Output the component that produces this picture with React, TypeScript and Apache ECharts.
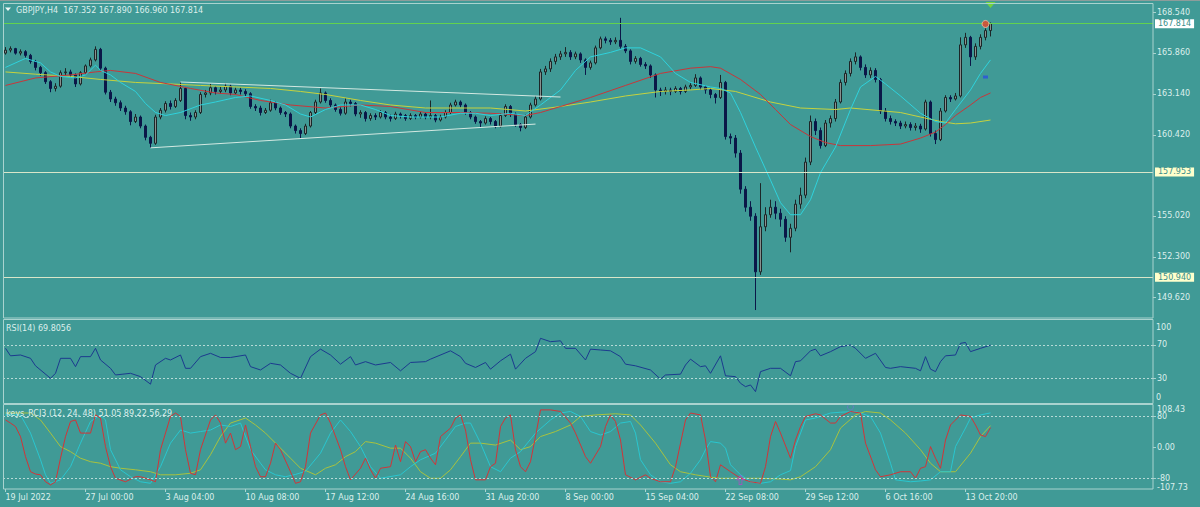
import React, { useEffect, useRef } from "react";
import * as echarts from "echarts";

// ---------- data ----------
const tickLabels = ["19 Jul 2022", "27 Jul 00:00", "3 Aug 04:00", "10 Aug 08:00", "17 Aug 12:00", "24 Aug 16:00", "31 Aug 20:00", "8 Sep 00:00", "15 Sep 04:00", "22 Sep 08:00", "29 Sep 12:00", "6 Oct 16:00", "13 Oct 20:00"];
const barsPerLabel = 16;
const slotCount = 230;

const opens = [165.85,166.05,166.15,165.85,165.95,165.70,165.30,164.90,164.55,163.95,163.50,163.65,164.55,164.60,164.40,163.80,164.55,165.00,165.40,166.10,
164.85,163.25,162.80,162.55,162.20,161.95,161.30,161.60,161.00,160.25,159.85,161.60,162.05,162.50,162.30,162.70,163.50,161.70,161.60,161.90,
163.10,163.20,163.55,163.30,163.40,163.65,163.20,163.40,163.30,163.15,162.30,162.20,161.90,162.05,162.55,162.20,161.90,161.80,161.00,160.70,
160.50,161.00,161.90,162.60,163.20,162.70,162.40,162.10,161.85,162.60,162.50,161.80,161.90,161.50,161.70,161.60,161.90,161.60,161.50,161.80,
161.70,161.50,161.70,161.60,161.80,161.60,161.70,161.40,161.60,161.90,162.40,162.60,162.40,161.90,161.60,161.30,161.20,161.50,161.30,161.00,
161.70,162.30,161.80,161.10,160.90,161.60,162.40,162.80,164.60,164.80,165.30,165.60,165.80,165.90,165.60,165.80,165.40,164.90,165.20,166.20,
166.80,166.70,166.60,166.70,166.30,166.00,165.30,165.50,165.10,165.00,164.40,163.40,163.30,163.40,163.30,163.50,163.30,163.60,163.70,164.20,
163.60,163.40,163.10,162.90,163.90,160.30,160.20,159.20,156.80,155.60,155.00,151.30,154.30,155.10,155.60,155.20,154.80,153.60,154.20,155.80,
156.40,158.60,161.30,160.70,159.70,161.20,161.50,162.60,163.90,164.50,165.30,165.60,164.90,164.40,164.70,164.10,162.00,161.50,161.30,161.20,
161.00,161.10,160.90,161.00,160.80,162.60,160.50,160.10,162.00,162.90,162.80,163.00,166.40,166.90,165.60,166.30,166.90,167.352];
const closes = [166.05,166.15,165.85,165.95,165.70,165.30,164.90,164.55,163.95,163.50,163.65,164.55,164.60,164.40,163.80,164.55,165.00,165.40,166.10,164.85,
163.25,162.80,162.55,162.20,161.95,161.30,161.60,161.00,160.25,159.85,161.60,162.05,162.50,162.30,162.70,163.50,161.70,161.60,161.90,163.10,
163.20,163.55,163.30,163.40,163.65,163.20,163.40,163.30,163.15,162.30,162.20,161.90,162.05,162.55,162.20,161.90,161.80,161.00,160.70,160.50,
161.00,161.90,162.60,163.20,162.70,162.40,162.10,161.85,162.60,162.50,161.80,161.90,161.50,161.70,161.60,161.90,161.60,161.50,161.80,161.70,
161.50,161.70,161.60,161.80,161.60,161.70,161.40,161.60,161.90,162.40,162.60,162.40,161.90,161.60,161.30,161.20,161.50,161.30,161.00,161.70,
162.30,161.80,161.10,160.90,161.60,162.40,162.80,164.60,164.80,165.30,165.60,165.80,165.90,165.60,165.80,165.40,164.90,165.20,166.20,166.80,
166.70,166.60,166.70,166.30,166.00,165.30,165.50,165.10,165.00,164.40,163.40,163.30,163.40,163.30,163.50,163.30,163.60,163.70,164.20,163.60,
163.40,163.10,162.90,163.90,160.30,160.20,159.20,156.80,155.60,155.00,151.30,154.30,155.10,155.60,155.20,154.80,153.60,154.20,155.80,156.40,
158.60,161.30,160.70,159.70,161.20,161.50,162.60,163.90,164.50,165.30,165.60,164.90,164.40,164.70,164.10,162.00,161.50,161.30,161.20,161.00,
161.10,160.90,161.00,160.80,162.60,160.50,160.10,162.00,162.90,162.80,163.00,166.40,166.90,165.60,166.30,166.90,167.35,167.814];
const lows = [165.75,165.90,165.75,165.70,165.55,165.15,164.70,164.35,163.80,163.25,163.30,163.55,164.35,164.20,163.60,163.70,164.45,164.90,165.30,164.70,
163.10,162.60,162.35,162.00,161.75,161.05,161.20,160.85,160.05,159.55,159.75,161.45,161.90,162.10,162.20,162.60,161.45,161.35,161.45,161.80,
162.90,163.05,163.10,163.15,163.25,163.05,163.10,163.10,162.95,162.15,162.00,161.70,161.80,161.95,162.05,161.75,161.60,160.85,160.50,160.20,
160.40,160.90,161.80,162.50,162.55,162.25,161.95,161.70,161.75,162.30,161.65,161.55,161.30,161.35,161.40,161.50,161.45,161.30,161.40,161.50,
161.35,161.40,161.45,161.50,161.45,161.45,161.25,161.30,161.50,161.80,162.30,162.25,161.75,161.45,161.15,160.90,161.10,161.10,160.85,160.90,
161.60,161.60,160.95,160.65,160.80,161.50,162.30,162.70,164.40,164.60,165.10,165.40,165.60,165.40,165.45,165.20,164.40,164.75,165.10,166.10,
166.50,166.40,166.45,166.15,165.85,165.10,165.15,164.95,164.80,164.20,162.90,163.00,163.10,163.05,163.20,163.10,163.20,163.45,163.60,163.40,
163.15,162.85,162.50,162.80,160.10,159.80,158.90,156.50,155.30,154.70,148.76,151.10,154.00,154.90,154.80,154.30,153.30,152.60,154.00,155.50,
156.20,158.40,160.40,159.50,159.60,160.90,161.30,162.50,163.70,164.30,165.10,164.70,164.20,164.20,163.90,161.80,161.30,161.10,161.00,160.80,
160.85,160.70,160.70,160.55,160.70,160.30,159.80,160.00,161.90,162.60,162.70,162.90,166.20,165.00,165.40,166.10,166.70,166.96];
const highs = [166.25,166.30,166.20,166.10,166.05,165.80,165.40,165.00,164.65,164.05,163.85,164.70,164.85,164.75,164.50,164.65,165.10,165.55,166.30,166.20,
164.95,163.40,162.95,162.70,162.35,162.05,161.80,161.70,161.10,160.35,161.75,162.20,162.65,162.70,162.85,163.90,163.60,161.90,162.05,163.25,
163.40,163.80,163.65,163.60,163.85,163.75,163.55,163.55,163.45,163.25,162.45,162.35,162.20,162.75,162.65,162.30,162.00,161.90,161.10,160.85,
161.15,162.00,162.75,163.50,163.30,162.85,162.50,162.25,162.85,162.75,162.60,162.05,162.00,161.85,161.85,162.05,162.00,161.75,161.95,161.90,
161.80,161.85,161.80,161.95,161.90,162.70,161.80,161.75,162.05,162.55,162.75,162.70,162.50,162.00,161.70,161.40,161.65,161.60,161.40,161.85,
162.45,162.40,161.90,161.20,161.75,162.55,163.00,164.80,165.00,165.50,165.80,166.00,166.25,166.05,165.95,165.90,165.50,165.35,166.35,166.95,
166.95,166.85,166.90,168.20,166.45,166.10,165.65,165.60,165.25,165.10,164.50,163.55,163.60,163.55,163.65,163.60,163.75,163.85,164.45,164.30,
163.70,163.50,163.20,164.40,164.00,160.50,160.40,159.40,157.00,156.00,155.20,157.20,155.60,156.10,156.00,155.50,155.00,154.50,156.10,156.90,
158.90,161.70,161.50,160.90,161.40,161.70,162.80,164.10,164.70,165.50,165.90,165.70,165.10,164.90,164.85,164.20,162.20,161.70,161.45,161.35,
161.30,161.25,161.20,161.15,162.75,162.70,160.70,162.20,163.05,163.05,163.20,166.90,167.20,167.00,166.50,167.10,167.50,167.89];

// moving averages: [bar index, price]
const maFast = [[0,164.9],[4,165.5],[7,165.2],[9,164.6],[11,164.3],[14,164.2],[16,164.4],[18,165.05],[19,164.7],[21,164.4],[23,163.9],[26,163.3],[28,162.5],[30,161.9],[32,161.7],[35,161.9],[39,162.4],[42,162.6],[46,162.9],[49,163.0],[53,162.7],[56,162.4],[59,161.8],[61,161.6],[64,162.1],[67,162.4],[71,162.4],[74,162.1],[77,161.7],[81,161.6],[87,161.6],[91,161.85],[94,161.85],[97,161.7],[101,161.85],[104,161.7],[107,162.4],[111,163.4],[114,164.7],[117,165.6],[121,165.9],[124,166.2],[127,166.2],[131,165.6],[134,164.5],[137,163.9],[141,163.6],[143,163.5],[145,163.2],[147,161.9],[150,159.6],[153,157.4],[155,155.9],[157,155.1],[159,155.1],[161,156.1],[163,157.9],[166,159.6],[169,162.1],[171,163.6],[174,164.3],[176,163.8],[179,163.0],[183,161.85],[186,161.3],[188,161.2],[190,162.1],[193,163.4],[195,164.5],[197,165.4]];
const maMid = [[0,163.7],[6,164.2],[13,164.4],[18,164.6],[21,164.7],[26,164.5],[31,163.9],[37,163.5],[42,163.2],[46,163.1],[51,162.7],[57,162.4],[64,162.2],[71,162.4],[77,162.3],[84,161.9],[91,161.9],[97,161.85],[104,161.7],[107,161.9],[111,162.3],[117,162.9],[124,163.7],[131,164.5],[137,164.85],[141,164.95],[143,164.85],[147,164.1],[151,163.1],[154,162.1],[157,161.1],[161,160.3],[164,159.9],[167,159.7],[173,159.7],[179,159.8],[183,160.2],[186,160.6],[188,161.1],[190,161.7],[193,162.4],[195,162.9],[197,163.2]];
const maSlow = [[0,164.6],[6,164.45],[13,164.3],[19,164.1],[26,163.9],[33,163.8],[39,163.7],[46,163.6],[53,163.5],[59,163.3],[64,163.1],[71,162.7],[77,162.4],[84,162.2],[97,162.2],[104,162.0],[111,162.3],[117,162.6],[124,163.0],[131,163.3],[137,163.4],[141,163.5],[146,163.3],[153,162.6],[159,162.2],[166,162.1],[169,162.2],[179,161.9],[183,161.6],[187,161.3],[190,161.15],[193,161.2],[197,161.4]];

// RSI(14): [bar index, value]
const rsi = [[0,66],[1,57],[3,58],[5,54],[6,45],[9,30],[10,36],[11,54],[13,54],[14,44],[15,56],[17,56],[18,66],[19,52],[21,42],[22,34],[25,36],[27,32],[29,23],[30,46],[32,54],[33,52],[35,58],[36,42],[37,42],[39,56],[41,60],[43,55],[45,55],[48,58],[49,44],[51,40],[53,48],[55,46],[57,36],[59,30],[61,56],[63,65],[65,58],[67,47],[69,56],[70,46],[72,50],[74,46],[77,49],[79,39],[81,49],[84,50],[85,53],[89,63],[91,56],[92,48],[94,43],[96,49],[97,41],[99,51],[101,59],[102,41],[104,54],[106,62],[107,78],[109,74],[111,75],[112,66],[114,66],[116,52],[117,65],[119,64],[121,63],[123,56],[124,47],[126,45],[129,40],[131,29],[132,34],[135,35],[136,46],[137,53],[139,44],[140,45],[141,36],[143,57],[144,33],[146,32],[147,24],[148,20],[149,22],[150,14],[151,38],[153,42],[155,42],[157,33],[158,50],[159,51],[161,63],[162,65],[163,57],[165,62],[167,68],[169,70],[170,66],[172,54],[174,60],[176,43],[177,42],[179,44],[182,42],[183,39],[184,56],[185,41],[186,38],[187,50],[188,57],[190,58],[191,72],[192,73],[193,62],[195,66],[197,69.8]];

// keys_RCI3 (12, 24, 48): [bar index, value]
const rci12 = [[0,71],[1,63],[2,54],[3,28],[4,-24],[5,-63],[6,-69],[7,-71],[8,-89],[9,-97],[10,-89],[11,-28],[12,28],[13,67],[14,71],[15,37],[17,37],[18,84],[19,76],[20,2],[21,-50],[22,-80],[24,-89],[26,-76],[27,-76],[29,-84],[30,-89],[31,-6],[32,37],[33,80],[34,89],[35,80],[36,-6],[37,-67],[38,-71],[39,-6],[41,71],[42,84],[43,63],[44,11],[45,37],[46,-6],[47,2],[48,58],[49,2],[50,-50],[51,-76],[52,-76],[53,-41],[54,11],[55,-6],[57,-63],[58,-93],[59,-89],[60,-50],[61,37],[63,84],[64,89],[65,63],[67,-6],[68,-50],[69,-84],[71,-54],[72,-28],[73,-58],[74,-80],[75,-54],[77,-50],[78,6],[79,-37],[80,15],[81,2],[82,-37],[83,-11],[84,-6],[85,-28],[86,-45],[87,28],[89,50],[90,76],[91,84],[92,45],[93,-32],[94,-84],[96,-84],[97,-50],[98,-41],[99,54],[100,76],[101,84],[102,-6],[103,-50],[104,-63],[105,-37],[106,28],[107,97],[109,97],[111,93],[113,63],[114,37],[116,-24],[117,-41],[119,2],[120,54],[121,84],[122,67],[123,19],[124,-71],[126,-84],[128,-71],[129,-80],[131,-89],[133,-89],[134,-50],[136,71],[137,89],[139,84],[140,19],[141,-76],[142,-89],[143,-45],[145,-63],[147,-80],[149,-89],[151,-93],[152,-50],[153,28],[154,67],[155,37],[157,-28],[158,19],[159,54],[160,80],[162,87],[163,84],[165,63],[166,63],[167,80],[169,93],[171,89],[172,11],[174,-58],[175,-76],[177,-71],[179,-63],[181,-63],[182,-80],[183,-54],[184,-50],[185,2],[186,-28],[187,-54],[188,19],[189,58],[191,84],[193,80],[194,58],[195,32],[196,28],[197,51.05]];
const rci24 = [[0,84],[3,84],[5,37],[7,-32],[8,-71],[9,-93],[11,-84],[13,-50],[15,11],[17,67],[19,84],[20,71],[21,-6],[23,-58],[25,-76],[27,-89],[29,-93],[31,-50],[33,11],[35,45],[37,37],[39,41],[41,45],[43,58],[45,54],[47,63],[49,-6],[51,-41],[52,-58],[54,-71],[56,-76],[58,-70],[60,-62],[63,-15],[65,37],[67,71],[69,41],[71,2],[73,-50],[75,-80],[79,-71],[81,-50],[83,-32],[86,-15],[88,19],[90,54],[92,63],[93,63],[95,11],[97,-50],[99,-63],[101,-28],[103,-11],[106,37],[109,71],[111,89],[113,93],[115,80],[117,41],[119,32],[121,41],[123,63],[125,67],[126,37],[127,-32],[129,-71],[131,-89],[133,-93],[135,-89],[137,-67],[139,-32],[140,-6],[141,15],[143,11],[144,-2],[145,-45],[147,-71],[149,-89],[151,-93],[153,-89],[155,-71],[157,-60],[158,2],[160,71],[162,76],[165,89],[167,91],[170,93],[173,80],[175,37],[177,-41],[178,-84],[181,-89],[183,-87],[185,-84],[187,-63],[189,-63],[190,2],[192,50],[193,76],[195,84],[197,89.22]];
const rci48 = [[0,89],[5,89],[7,71],[9,37],[11,2],[13,-11],[15,-28],[17,-37],[19,-41],[21,-50],[23,-54],[26,-58],[29,-63],[31,-71],[34,-71],[37,-67],[39,-58],[41,-19],[43,28],[45,63],[48,76],[50,58],[52,37],[54,11],[57,-28],[59,-54],[62,-71],[64,-54],[66,-45],[68,-24],[70,-11],[72,15],[74,11],[77,-2],[79,-2],[81,-28],[83,-63],[85,-80],[87,-80],[89,-58],[91,-24],[93,11],[95,11],[98,6],[101,19],[103,-6],[105,2],[107,28],[110,41],[113,58],[115,80],[118,84],[122,87],[125,84],[127,58],[130,11],[133,-45],[135,-63],[138,-71],[141,-77],[143,-80],[151,-80],[155,-82],[157,-84],[159,-76],[162,-50],[165,-6],[167,50],[170,84],[172,93],[175,89],[177,71],[180,37],[183,-6],[185,-41],[187,-63],[190,-63],[193,-15],[195,28],[197,56.29]];

const priceTicks = [149.62, 152.30, 155.02, 160.42, 163.14, 165.86, 168.54];
const hLineValues = [167.814, 157.953, 150.940];
const trendLines = [[[35, 163.93], [111, 162.93]], [[29, 159.55], [106, 161.13]]];
const rsiLevels = [70, 30];
const rciLevels = [80, -80];
const rciTicks = [80, 0, -80];
const signalDown = [[197, 169.05]];
const signalDot = [[196, 167.79]];
const signalDash = [[196, 164.26]];
const rciArrow = [[147, -84.4]];
const rciRing = [[169, 104.5]];

// ---------- styles ----------
const BG = "#409a96";
const TXT = "#dcefec";
const FRAME = "#a9d3cf";
const FONT = "DejaVu Sans";

const categories = Array.from({ length: slotCount }, (_, i) => String(i));
const isLabelIdx = (i: number) => i % barsPerLabel === 0 && i / barsPerLabel < tickLabels.length;

function buildOption(): any {
  const candles = closes.map((c, i) => [opens[i], c, lows[i], highs[i]]);
  const hStyles = [
    { line: "#62d24e", box: "#ffffff" },
    { line: "#d9e6c9", box: "#ffffcc" },
    { line: "#d9e6c9", box: "#ffffcc" },
  ];
  const grids = [
    { left: 3, right: 47, top: 3, height: 315 },
    { left: 3, right: 47, top: 320, height: 83.3 },
    { left: 3, right: 47, top: 405.5, height: 83.5 },
  ].map((g) => ({ ...g, containLabel: false, outerBoundsMode: "none", show: false }));

  const hiddenX = (gi: number) => ({
    type: "category", gridIndex: gi, data: categories, boundaryGap: true, position: "bottom",
    axisLine: { show: false, onZero: false }, axisTick: { show: false }, axisLabel: { show: false }, splitLine: { show: false },
  });
  const yCommon = {
    type: "value", position: "right", axisLine: { show: false }, splitLine: { show: false },
  };
  const lbl = { color: TXT, fontFamily: FONT, fontSize: 8, margin: 4 };
  const levelLine = (vals: number[]) => ({
    silent: true, symbol: ["none", "none"], label: { show: false },
    lineStyle: { color: "#b6dad6", type: [2, 2], width: 1 },
    data: vals.map((v) => ({ yAxis: v })),
  });
  const line = (data: number[][], xi: number, color: string, z = 3) => ({
    type: "line", xAxisIndex: xi, yAxisIndex: xi, data, showSymbol: false, symbol: "none",
    lineStyle: { color, width: 1 }, z, silent: true,
  });

  const t = (text: string, x: number, y: number, extra: any = {}) => ({
    type: "text", x, y, silent: true, z: 50,
    style: { text, fill: TXT, font: `8px "${FONT}"`, textVerticalAlign: "middle", verticalAlign: "middle", ...extra },
  });
  const frame = (x: number, y: number, w: number, h: number) => ({
    type: "rect", silent: true, z: 40, shape: { x, y, width: w, height: h },
    style: { fill: "none", stroke: FRAME, lineWidth: 1 },
  });

  return {
    animation: false,
    backgroundColor: BG,
    grid: grids,
    xAxis: [
      hiddenX(0),
      hiddenX(1),
      {
        ...hiddenX(2),
        axisTick: { show: true, alignWithLabel: true, length: 3, interval: (i: number) => isLabelIdx(i), lineStyle: { color: FRAME } },
        axisLabel: {
          show: true, ...lbl, align: "left", interval: (i: number) => isLabelIdx(i),
          formatter: (_v: string, i: number) => (isLabelIdx(i) ? tickLabels[i / barsPerLabel] : ""),
        },
      },
    ],
    yAxis: [
      {
        ...yCommon, gridIndex: 0, min: 148.23, max: 169.185,
        axisTick: { show: true, length: 3, customValues: priceTicks, lineStyle: { color: FRAME } },
        axisLabel: { ...lbl, customValues: priceTicks, formatter: (v: number) => v.toFixed(3) },
      },
      {
        ...yCommon, gridIndex: 1, min: 0, max: 100,
        axisTick: { show: true, length: 3, customValues: rsiLevels, lineStyle: { color: FRAME } },
        axisLabel: { ...lbl, customValues: rsiLevels, formatter: (v: number) => String(v) },
      },
      {
        ...yCommon, gridIndex: 2, min: -107.73, max: 108.43,
        axisTick: { show: true, length: 3, customValues: rciTicks, lineStyle: { color: FRAME } },
        axisLabel: { ...lbl, customValues: rciTicks, formatter: (v: number) => (v === 0 ? "0.00" : String(v)) },
      },
    ],
    series: [
      {
        type: "candlestick", xAxisIndex: 0, yAxisIndex: 0, data: candles, barWidth: 3, z: 2, silent: true,
        itemStyle: { color: "#87918f", color0: "#0b1748", borderColor: "#1c2628", borderColor0: "#0b1748", borderWidth: 1 },
        markLine: {
          silent: true, symbol: ["none", "none"], animation: false,
          data: [
            ...hLineValues.map((v, k) => ({
              yAxis: v,
              lineStyle: { color: hStyles[k].line, width: 1, type: "solid" },
              label: {
                show: true, position: "end", distance: 2, formatter: () => v.toFixed(3),
                color: "#3b8e8a", backgroundColor: hStyles[k].box, padding: [1, 3, 0, 3],
                fontFamily: FONT, fontSize: 8,
              },
            })),
            ...trendLines.map((tl) => [
              { coord: tl[0], lineStyle: { color: "#d3e9e2", width: 1, type: "solid" }, label: { show: false } },
              { coord: tl[1] },
            ]),
          ],
        },
      },
      line(maSlow, 0, "#c6d23e"),
      line(maMid, 0, "#c8363a"),
      line(maFast, 0, "#2fd2dc"),
      {
        type: "scatter", xAxisIndex: 0, yAxisIndex: 0, data: signalDown, symbol: "triangle", symbolRotate: 180,
        symbolSize: [10, 6], itemStyle: { color: "#7fe024" }, silent: true, z: 6,
      },
      {
        type: "scatter", xAxisIndex: 0, yAxisIndex: 0, data: signalDot, symbol: "circle",
        symbolSize: 7, itemStyle: { color: "#e8432c", borderColor: "#f6c0a0", borderWidth: 1 }, silent: true, z: 6,
      },
      {
        type: "scatter", xAxisIndex: 0, yAxisIndex: 0, data: signalDash, symbol: "rect",
        symbolSize: [5, 3], itemStyle: { color: "#2a50e0" }, silent: true, z: 6,
      },
      { ...line(rsi, 1, "#1c3a8e"), markLine: levelLine(rsiLevels) },
      { ...line(rci48, 2, "#a9c23e"), markLine: levelLine(rciLevels) },
      line(rci24, 2, "#2ac6cf"),
      line(rci12, 2, "#d23438"),
      {
        type: "scatter", xAxisIndex: 2, yAxisIndex: 2, data: rciArrow,
        symbol: "path://M5 0 L10 5 L7 5 L7 11 L3 11 L3 5 L0 5 Z", symbolSize: [7, 9],
        itemStyle: { color: "rgba(0,0,0,0)", borderColor: "#b448c8", borderWidth: 1 }, silent: true, z: 6,
      },
      {
        type: "scatter", xAxisIndex: 2, yAxisIndex: 2, data: rciRing, symbol: "circle", symbolSize: 6,
        itemStyle: { color: "rgba(0,0,0,0)", borderColor: "#6b78c8", borderWidth: 1 }, silent: true, z: 6,
      },
    ],
    graphic: [
      { type: "line", silent: true, z: 40, shape: { x1: 0, y1: 0.5, x2: 1200, y2: 0.5 }, style: { stroke: "#8d9d9b", lineWidth: 1 } },
      frame(3.5, 3.5, 1149.5, 314.5),
      frame(3.5, 319.5, 1149.5, 84),
      frame(3.5, 404.5, 1149.5, 84.5),
      { type: "polygon", silent: true, z: 50, shape: { points: [[5, 7.5], [11, 7.5], [8, 11]] }, style: { fill: "#eef7f6" } },
      t("GBPJPY,H4  167.352 167.890 166.960 167.814", 16, 10),
      t("RSI(14) 69.8056", 6, 328),
      t("keys_RCI3 (12, 24, 48) 51.05 89.22 56.29", 6, 413),
      t("100", 1156, 327),
      t("0", 1156, 397),
      t("108.43", 1157, 409),
      t("-107.73", 1157, 487.5),
    ],
  };
}

export default function App() {
  const ref = useRef<HTMLDivElement>(null);
  useEffect(() => {
    if (!ref.current) return;
    const chart = echarts.init(ref.current, null, { renderer: "svg" });
    chart.setOption(buildOption());
    return () => chart.dispose();
  }, []);
  return (
    <div
      ref={ref}
      style={{ position: "fixed", left: 0, top: 0, width: 1200, height: 507, background: BG }}
    />
  );
}
